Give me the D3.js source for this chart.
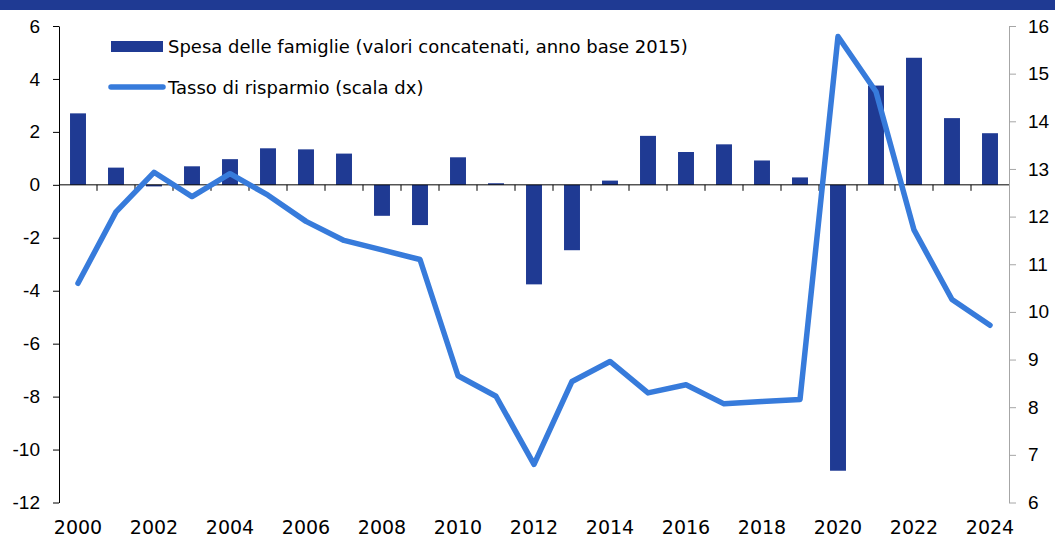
<!DOCTYPE html>
<html>
<head>
<meta charset="utf-8">
<script src="https://cdn.jsdelivr.net/npm/d3@7"></script>
<style>
	body{ margin:0; background:#fff; }
	svg{ display:block; font-family:"DejaVu Sans", Verdana, sans-serif; }
</style>
</head>
<body>
<svg id="chart" width="1055" height="537"></svg>
<script>
var years = [2000,2001,2002,2003,2004,2005,2006,2007,2008,2009,2010,2011,2012,2013,2014,2015,2016,2017,2018,2019,2020,2021,2022,2023,2024];
// spesa delle famiglie, var. % (asse sx)
var spesa = [2.7,0.65,-0.06,0.7,0.97,1.38,1.34,1.18,-1.17,-1.52,1.04,0.06,-3.76,-2.47,0.16,1.85,1.24,1.53,0.92,0.28,-10.8,3.75,4.8,2.52,1.95];
// tasso di risparmio (asse dx)
var risparmio = [10.6,12.1,12.93,12.42,12.9,12.45,11.9,11.5,11.3,11.1,8.66,8.23,6.8,8.54,8.96,8.3,8.47,8.07,8.12,8.16,15.78,14.62,11.72,10.26,9.72];
var leftTicks = [-12,-10,-8,-6,-4,-2,0,2,4,6];
var rightTicks = [6,7,8,9,10,11,12,13,14,15,16];
var yearLabels = [2000,2002,2004,2006,2008,2010,2012,2014,2016,2018,2020,2022,2024];
var legendLabels = ["Spesa delle famiglie (valori concatenati, anno base 2015)", "Tasso di risparmio (scala dx)"];

var barColor = "#1f3a93";
var lineColor = "#377bdb";

var svg = d3.select("#chart");

// banda in alto
svg.append("rect")
	.attr("x", 0).attr("y", 0)
	.attr("width", 1055).attr("height", 10)
	.attr("fill", barColor);

var x = d3.scaleBand()
	.domain(years)
	.range([59, 1009])
	.padding(0);

var yL = d3.scaleLinear().domain([-12, 6]).range([502.5, 26]);
var yR = d3.scaleLinear().domain([6, 16]).range([502.5, 26]);

var bw = x.bandwidth() * 0.42;

// barre
svg.append("g")
	.selectAll("rect")
	.data(years)
	.enter()
	.append("rect")
	.attr("x", function(d){
		return x(d) + (x.bandwidth() - bw) / 2;
	})
	.attr("width", bw)
	.attr("y", function(d, i){
		return yL(Math.max(0, spesa[i]));
	})
	.attr("height", function(d, i){
		return Math.abs(yL(spesa[i]) - yL(0));
	})
	.attr("fill", barColor);

// asse sx (trattino semplice per i negativi)
var axL = svg.append("g")
	.attr("transform", "translate(59,0)")
	.call(d3.axisLeft(yL).tickValues(leftTicks).tickSize(6).tickSizeOuter(0).tickPadding(13).tickFormat(function(d){ return String(d); }));
axL.selectAll("text").attr("font-size", 19).attr("fill", "#000").attr("font-family", null);
axL.selectAll("line, path").attr("stroke", "#000");

// asse dx
var axR = svg.append("g")
	.attr("transform", "translate(1009,0)")
	.call(d3.axisRight(yR).tickValues(rightTicks).tickSize(7).tickSizeOuter(0).tickPadding(12).tickFormat(function(d){ return String(d); }));
axR.selectAll("text").attr("font-size", 19).attr("fill", "#000").attr("font-family", null);
axR.selectAll("line, path").attr("stroke", "#a6a6a6");

// asse x sullo zero
var xAxis = svg.append("g");
xAxis.append("line")
	.attr("x1", x.range()[0]).attr("x2", x.range()[1])
	.attr("y1", yL(0)).attr("y2", yL(0))
	.attr("stroke", "#000");
xAxis.selectAll("line.tick")
	.data(years.slice(1))
	.enter()
	.append("line")
	.attr("class", "tick")
	.attr("x1", function(d){ return x(d); })
	.attr("x2", function(d){ return x(d); })
	.attr("y1", yL(0))
	.attr("y2", yL(0) + 6)
	.attr("stroke", "#000");

svg.append("g")
	.selectAll("text")
	.data(yearLabels)
	.enter()
	.append("text")
	.attr("x", function(d){ return x(d) + x.bandwidth() / 2; })
	.attr("y", 534)
	.attr("text-anchor", "middle")
	.attr("font-size", 19)
	.text(function(d){ return d; });

// linea tasso di risparmio
var line = d3.line()
	.x(function(d, i){ return x(years[i]) + x.bandwidth() / 2; })
	.y(function(d){ return yR(d); });

svg.append("path")
	.datum(risparmio)
	.attr("d", line)
	.attr("fill", "none")
	.attr("stroke", lineColor)
	.attr("stroke-width", 5.5)
	.attr("stroke-linejoin", "round")
	.attr("stroke-linecap", "round");

// legenda
var leg = svg.append("g");
leg.append("rect")
	.attr("x", 111).attr("y", 41)
	.attr("width", 52).attr("height", 11)
	.attr("fill", barColor);
leg.append("line")
	.attr("x1", 111).attr("x2", 163)
	.attr("y1", 87).attr("y2", 87)
	.attr("stroke", lineColor)
	.attr("stroke-width", 5.5)
	.attr("stroke-linecap", "round");
leg.selectAll("text")
	.data(legendLabels)
	.enter()
	.append("text")
	.attr("x", 168)
	.attr("y", function(d, i){ return i === 0 ? 53 : 94; })
	.attr("font-size", 18)
	.text(function(d){ return d; });
</script>
</body>
</html>
